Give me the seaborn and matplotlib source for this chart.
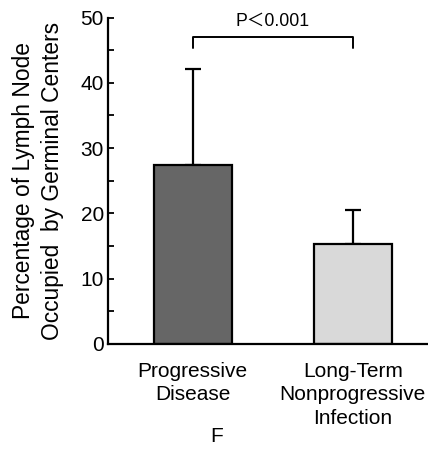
import matplotlib
matplotlib.use("Agg")
import matplotlib.pyplot as plt
import seaborn as sns
import pandas as pd
import numpy as np
from matplotlib.ticker import MultipleLocator

categories = ["Progressive\nDisease", "Long-Term\nNonprogressive\nInfection"]
means = [27.4, 15.3]
errors_up = [14.7, 5.2]
bar_colors = ["#666666", "#d9d9d9"]
y_ticks = [0, 10, 20, 30, 40, 50]
p_text = "P\uff1c0.001"

sns.set_theme(style="white")
plt.rcParams["font.family"] = ["Liberation Sans", "Noto Sans CJK SC", "DejaVu Sans"]

df = pd.DataFrame({"group": categories, "value": means})

fig = plt.figure(figsize=(4.28, 4.55), dpi=100)
ax = fig.add_axes([108/428, 1-343.7/455, 1-108/428, (343.7-17.7)/455])

sns.barplot(data=df, x="group", y="value", hue="group", palette=bar_colors,
            width=0.49, edgecolor="black", linewidth=1.6, legend=False,
            errorbar=None, ax=ax, saturation=1)

xpos = np.arange(len(categories))
ax.errorbar(xpos, means, yerr=[np.zeros(len(means)), errors_up], fmt="none",
            ecolor="black", elinewidth=1.6, capsize=6, capthick=1.6, zorder=0)

ax.set_xlim(-0.53, 1.47)
ax.set_ylim(0, 50)
ax.set_yticks(y_ticks)
ax.yaxis.set_minor_locator(MultipleLocator(5))
ax.tick_params(axis="y", which="both", direction="in", length=4.5, width=1.3,
               labelsize=15, left=True, pad=3, colors="black")
ax.tick_params(axis="x", which="both", length=0, labelsize=15, pad=13, colors="black")
for lab in ax.get_xticklabels():
    lab.set_linespacing(1.3)
for s in ["top", "right"]:
    ax.spines[s].set_visible(False)
for s in ["left", "bottom"]:
    ax.spines[s].set_color("black")
    ax.spines[s].set_linewidth(1.6)

ax.set_xlabel("")
ax.set_ylabel("Percentage of Lymph Node\nOccupied  by Germinal Centers",
              fontsize=16.4, color="black", labelpad=12, linespacing=1.3)

# significance bracket
yb_top, yb_bot = 47.1, 45.3
ax.plot([xpos[0], xpos[0], xpos[1], xpos[1]], [yb_bot, yb_top, yb_top, yb_bot],
        color="black", lw=1.4, clip_on=False)
ax.text((xpos[0]+xpos[1])/2, 48.1, p_text, ha="center", va="bottom",
        fontsize=12.7, color="black")

fig.text(217/428, 1-437/455, "F", ha="center", va="center", fontsize=15, color="black")

fig.savefig("out.png", dpi=100)
